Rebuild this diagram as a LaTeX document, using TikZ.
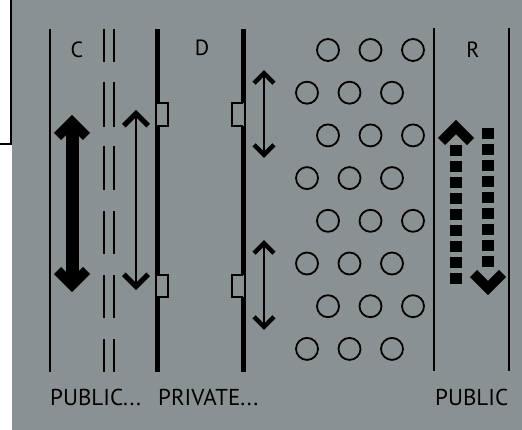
\documentclass[tikz,border=0pt]{standalone}
\usepackage{fontspec}
\setmainfont{PT Sans}
\usepackage{xcolor}
\usepackage{tikz}
\usetikzlibrary{positioning}
\definecolor{bggray}{RGB}{138,145,147}

\begin{document}
\begin{tikzpicture}[x=1pt,y=-1pt,
    thinwall/.style={line width=2pt},
    wall/.style={line width=5pt},
    chev/.style={line width=#1, line join=miter, line cap=butt},
    lanelbl/.style={inner sep=0pt, font=\fontsize{22}{26}\selectfont},
    zonelbl/.style={inner sep=0pt, anchor=west, font=\fontsize{23}{27}\selectfont}]
    \useasboundingbox (0,0) rectangle (522,430);

    % Background and corner frame
    \fill[bggray] (12,0) rectangle (522,430);
    \draw[line width=2pt] (0,144) -- (11,144) -- (11,0);

    % Lane boundaries
    \draw[thinwall] (50,29) -- (50,372);
    \foreach \a/\b in {29/62,82/127,146/190,211/254,275/318,339/372} {
        \draw[thinwall] (104,\a) -- (104,\b);
        \draw[thinwall] (114,\a) -- (114,\b);
    }
    \draw[thinwall] (434,28) -- (434,371);
    \draw[thinwall] (509,28) -- (509,371);

    % Walls with notches
    \foreach \x/\d in {157/1, 243/-1} {
        \draw[wall] (\x,29) -- (\x,103) (\x,126) -- (\x,275) (\x,297) -- (\x,372);
        \foreach \a/\b in {103/126, 275/297} {
            \draw[thinwall] (\x-1.5*\d,\a) -- (\x-1.5*\d,\b);
            \draw[thinwall] (\x,\a) -- (\x+11*\d,\a) -- (\x+11*\d,\b) -- (\x,\b);
        }
    }

    % Wide two-way arrow
    \draw[line width=13pt] (72,126) -- (72,281);
    \draw[chev=10pt] (57.5,136.5) -- (72,122) -- (86.5,136.5);
    \draw[chev=10pt] (57.5,270.5) -- (72,285) -- (86.5,270.5);

    % Narrow two-way arrows
    \draw[line width=2.2pt] (136,116) -- (136,285);
    \draw[chev=5pt] (123.8,125.7) -- (136,113.5) -- (148.2,125.7);
    \draw[chev=5pt] (123.8,274.3) -- (136,286.5) -- (148.2,274.3);
    \foreach \a/\b in {73.2/154.8, 243.2/326.8} {
        \draw[line width=2pt] (264,\a+1) -- (264,\b-1);
        \draw[chev=4.5pt] (254,\a+10) -- (264,\a) -- (274,\a+10);
        \draw[chev=4.5pt] (254,\b-10) -- (264,\b) -- (274,\b-10);
    }

    % Staggered circles
    \foreach \r in {0,...,7} {
        \foreach \c in {0,1,2} {
            \pgfmathsetmacro{\x}{307 + 21*mod(\r+1,2) + 42.5*\c}
            \pgfmathsetmacro{\y}{50 + 42.7*\r}
            \draw[line width=1.8pt] (\x,\y) circle (11pt);
        }
    }

    % Dotted one-way arrows
    \draw[line width=12.5pt, dash pattern=on 11.5pt off 4.5pt] (456,145) -- (456,285);
    \draw[chev=10pt] (441.5,141.5) -- (456,127) -- (470.5,141.5);
    \draw[line width=12.5pt, dash pattern=on 11.5pt off 4.5pt] (488,128) -- (488,268);
    \draw[chev=10pt] (473.5,273.5) -- (488,288) -- (502.5,273.5);

    % Labels
    \node[lanelbl] (lblC) at (77,50) {C};
    \node[lanelbl] (lblD) at (202,48) {D};
    \node[lanelbl] (lblR) at (473,50) {R};
    \node[zonelbl] (pubA) at (50,397) {PUBLIC...};
    \node[zonelbl] (priv) at (158,397) {PRIVATE...};
    \node[zonelbl] (pubB) at (435,397) {PUBLIC};
\end{tikzpicture}
\end{document}
